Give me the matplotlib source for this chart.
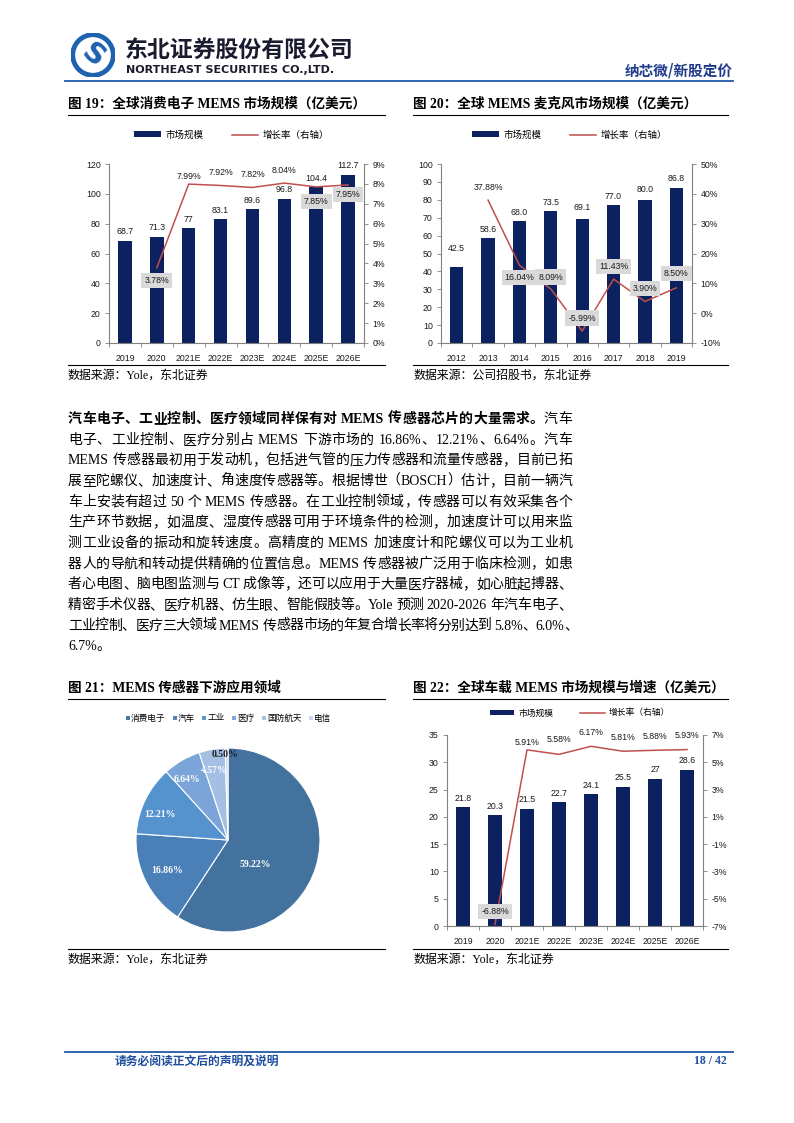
import numpy as np
import matplotlib
matplotlib.use('Agg')
import matplotlib.pyplot as plt
from matplotlib.patches import Circle
from matplotlib.lines import Line2D
from matplotlib.font_manager import FontProperties

# ---------------- data ----------------
c19_years = ['2019', '2020', '2021E', '2022E', '2023E', '2024E', '2025E', '2026E']
c19_size = [68.7, 71.3, 77, 83.1, 89.6, 96.8, 104.4, 112.7]
c19_growth = [np.nan, 3.78, 7.99, 7.92, 7.82, 8.04, 7.85, 7.95]

c20_years = ['2012', '2013', '2014', '2015', '2016', '2017', '2018', '2019']
c20_size = [42.5, 58.6, 68.0, 73.5, 69.1, 77.0, 80.0, 86.8]
c20_growth = [np.nan, 37.88, 16.04, 8.09, -5.99, 11.43, 3.90, 8.50]

c21_labels = ['消费电子', '汽车', '工业', '医疗', '国防航天', '电信']
c21_share = [59.22, 16.86, 12.21, 6.64, 4.57, 0.50]

c22_years = ['2019', '2020', '2021E', '2022E', '2023E', '2024E', '2025E', '2026E']
c22_size = [21.8, 20.3, 21.5, 22.7, 24.1, 25.5, 27, 28.6]
c22_growth = [np.nan, -6.88, 5.91, 5.58, 6.17, 5.81, 5.88, 5.93]

# ---------------- style ----------------
W, H = 794, 1123
NAVY = '#0C215F'
RED = '#C0504D'
AXC = '#808080'
BOXC = '#D9D9D9'
BLUE = '#2157A8'
DARKBLUE = '#1F3A8A'
FOOTBLUE = '#1F4E9E'
SANS = ['Liberation Sans', 'Noto Sans CJK SC']
SERIF = ['Liberation Serif', 'Noto Sans CJK SC']
CJK = ['Noto Sans CJK SC', 'Liberation Serif']
PIE_COLORS = ['#43729E', '#4A7FB8', '#5593CF', '#7BA5D8', '#A5BFE4', '#C9D7EE']
TICK_FS = 6.3
LAB_FS = 6.3
TITLE_FS = 9.8
SRC_FS = 8.6

fig = plt.figure(figsize=(W / 100, H / 100), dpi=100)


def add_ax(x0, y0, x1, y1):
    return fig.add_axes([x0 / W, 1 - y1 / H, (x1 - x0) / W, (y1 - y0) / H])


def ftext(x, y, s, **kw):
    return fig.text(x / W, 1 - y / H, s, **kw)


def hline(x0, x1, y, color, lw):
    fig.add_artist(Line2D([x0 / W, x1 / W], [1 - y / H, 1 - y / H], color=color, lw=lw))


# ---------------- header ----------------
lax = add_ax(71, 33, 115, 77)
lax.set_xlim(-1, 1); lax.set_ylim(-1, 1); lax.set_aspect('equal'); lax.axis('off')
lax.add_patch(Circle((0, 0), 1.0, color='#1E62B0'))
lax.add_patch(Circle((0, 0), 0.78, color='white'))
lax.text(0, -0.02, 'S', ha='center', va='center', fontsize=21, weight='bold',
         color='#1E62B0', rotation=-40, family='DejaVu Sans')
ftext(125, 50, '东北证券股份有限公司', fontsize=16.5, weight='bold', family=CJK,
      color='#1B1B2F', va='center', ha='left')
ftext(126, 70, 'NORTHEAST SECURITIES CO.,LTD.', fontsize=8, weight='bold',
      family='DejaVu Sans', color='#1B1B2F', va='center', ha='left')
ftext(733, 70, '纳芯微/新股定价', fontsize=10.5, weight='bold', family=CJK,
      color=DARKBLUE, va='center', ha='right')
hline(65, 733, 80.5, BLUE, 1.3)

# ---------------- combo chart helper ----------------
def combo(box, cats, sizes, growth, size_fmt, ylim, yticks, y2lim, y2ticks,
          rate_dy, rate_boxed, leg_xy, leg_fs, bar_dy):
    ax = add_ax(*box)
    x = np.arange(len(cats))
    bars = ax.bar(x, sizes, width=0.42, color=NAVY, zorder=2)
    ax.set_xlim(-0.5, len(cats) - 0.5)
    ax.set_ylim(*ylim)
    ax.set_yticks(yticks)
    ax.set_xticks(x)
    ax.set_xticklabels(cats)
    ax.set_xticks(np.arange(len(cats) + 1) - 0.5, minor=True)
    ax.tick_params(axis='x', which='major', length=0, pad=8, labelsize=TICK_FS)
    ax.tick_params(axis='x', which='minor', length=3, width=0.6, color=AXC, direction='out')
    ax.tick_params(axis='y', length=3, width=0.6, color=AXC, pad=3, labelsize=TICK_FS)
    for lab in ax.get_xticklabels() + ax.get_yticklabels():
        lab.set_family(SANS)
        lab.set_color('#1A1A1A')
    for s in ['top', 'right']:
        ax.spines[s].set_visible(False)
    for s in ['left', 'bottom']:
        ax.spines[s].set_color(AXC)
        ax.spines[s].set_linewidth(0.8)
    for xi, v, d in zip(x, sizes, bar_dy):
        ax.annotate(size_fmt.format(v), (xi, v), xytext=(0, d), textcoords='offset points',
                    ha='center', va='bottom', fontsize=LAB_FS, family=SANS, color='#1A1A1A')

    ax2 = ax.twinx()
    ln, = ax2.plot(x, growth, color=RED, lw=1.1, zorder=3)
    ax2.set_ylim(*y2lim)
    ax2.set_yticks(y2ticks)
    ax2.set_yticklabels([f'{v:g}%' for v in y2ticks])
    ax2.tick_params(axis='y', length=3, width=0.6, color=AXC, pad=3, labelsize=TICK_FS)
    for lab in ax2.get_yticklabels():
        lab.set_family(SANS)
        lab.set_color('#1A1A1A')
    for s in ['top', 'left', 'bottom']:
        ax2.spines[s].set_visible(False)
    ax2.spines['right'].set_color(AXC)
    ax2.spines['right'].set_linewidth(0.8)
    for xi, g, dy, bx in zip(x, growth, rate_dy, rate_boxed):
        if np.isnan(g):
            continue
        kw = {}
        if bx:
            kw['bbox'] = dict(boxstyle='square,pad=0.35', fc=BOXC, ec='none')
        ax2.annotate(f'{g:.2f}%', (xi, g), xytext=(0, dy * 0.72), textcoords='offset points',
                     ha='center', va='center', fontsize=LAB_FS, family=SANS, color='#1A1A1A',
                     zorder=5, **kw)

    ax.legend(handles=[bars, ln], labels=['市场规模', '增长率（右轴）'], loc='center',
              bbox_to_anchor=(leg_xy[0] / W, 1 - leg_xy[1] / H), bbox_transform=fig.transFigure,
              ncol=2, frameon=False, prop=FontProperties(family=CJK, size=leg_fs),
              handlelength=2.8, handleheight=0.6, columnspacing=3.0, handletextpad=0.5)
    return ax, ax2


# ---------------- figure 19 ----------------
ftext(68, 104, '图 19：全球消费电子 MEMS 市场规模（亿美元）', fontsize=TITLE_FS, weight='bold',
      family=SERIF, va='center', ha='left')
hline(68, 385, 114.5, 'black', 0.8)
combo((109, 164, 364, 343), c19_years, c19_size, c19_growth, '{:g}',
      (0, 120), np.arange(0, 121, 20), (0, 9), list(range(0, 10)),
      [0, -13, 8, 13, 13, 13, -15, -10],
      [False, True, False, False, False, False, True, True],
      (232, 135), 6.8, [3.2] * 8)
hline(68, 385, 365, 'black', 0.8)
ftext(68, 376, '数据来源：Yole，东北证券', fontsize=SRC_FS, family=SERIF, va='center', ha='left')

# ---------------- figure 20 ----------------
ftext(413, 104, '图 20：全球 MEMS 麦克风市场规模（亿美元）', fontsize=TITLE_FS, weight='bold',
      family=SERIF, va='center', ha='left')
hline(413, 728, 114.5, 'black', 0.8)
combo((441, 164, 692, 343), c20_years, c20_size, c20_growth, '{:.1f}',
      (0, 100), np.arange(0, 101, 10), (-10, 50), list(range(-10, 51, 10)),
      [0, 13, -12, 12, 13, 13, 13, 14],
      [False, False, True, True, True, True, True, True],
      (570, 135), 6.8, [10, 3.2, 3.2, 3.2, 5, 3.2, 4, 3.2])
hline(413, 728, 365, 'black', 0.8)
ftext(413, 376, '数据来源：公司招股书，东北证券', fontsize=SRC_FS, family=SERIF, va='center', ha='left')

# ---------------- body text (justified) ----------------
body_lines = [
    [('汽车电子、工业控制、医疗领域同样保有对 MEMS 传感器芯片的大量需求。', True), ('汽车', False)],
    [('电子、工业控制、医疗分别占 MEMS 下游市场的 16.86%、12.21%、6.64%。汽车', False)],
    [('MEMS 传感器最初用于发动机，包括进气管的压力传感器和流量传感器，目前已拓', False)],
    [('展至陀螺仪、加速度计、角速度传感器等。根据博世（BOSCH）估计，目前一辆汽', False)],
    [('车上安装有超过 50 个 MEMS 传感器。在工业控制领域，传感器可以有效采集各个', False)],
    [('生产环节数据，如温度、湿度传感器可用于环境条件的检测，加速度计可以用来监', False)],
    [('测工业设备的振动和旋转速度。高精度的 MEMS 加速度计和陀螺仪可以为工业机', False)],
    [('器人的导航和转动提供精确的位置信息。MEMS 传感器被广泛用于临床检测，如患', False)],
    [('者心电图、脑电图监测与 CT 成像等，还可以应用于大量医疗器械，如心脏起搏器、', False)],
    [('精密手术仪器、医疗机器、仿生眼、智能假肢等。Yole 预测 2020-2026 年汽车电子、', False)],
    [('工业控制、医疗三大领域 MEMS 传感器市场的年复合增长率将分别达到 5.8%、6.0%、', False)],
    [('6.7%。', False)],
]
line_right = [572, 572, 572, 572, 572, 572, 572, 572, 572, 572, 578, None]

renderer = fig.canvas.get_renderer()


def tok_width(s, fp):
    w, h, d = renderer.get_text_width_height_descent(s, fp, ismath=False)
    return w


def tokenize(line):
    toks = []
    for s, bold in line:
        i = 0
        while i < len(s):
            ch = s[i]
            if ord(ch) < 128 and ch != ' ':
                j = i
                while j < len(s) and ord(s[j]) < 128 and s[j] != ' ':
                    j += 1
                toks.append((s[i:j], bold))
                i = j
            else:
                toks.append((ch, bold))
                i += 1
    return toks


x_left = 68
for li, (line, xr) in enumerate(zip(body_lines, line_right)):
    yb = 418 + li * 20.65 + 5
    toks = tokenize(line)
    fps = [FontProperties(family=SERIF, size=10, weight='bold' if b else 'normal') for _, b in toks]
    widths = [tok_width(t, fp) for (t, _), fp in zip(toks, fps)]
    gap = 0.0
    if xr is not None and len(toks) > 1:
        gap = (xr - x_left - sum(widths)) / (len(toks) - 1)
    xc = x_left
    for (t, b), fp, w in zip(toks, fps, widths):
        if t != ' ':
            ftext(xc, yb, t, fontproperties=fp, va='baseline', ha='left', color='black')
        xc += w + gap

# ---------------- figure 21 (pie) ----------------
ftext(68, 688, '图 21：MEMS 传感器下游应用领域', fontsize=TITLE_FS, weight='bold',
      family=SERIF, va='center', ha='left')
hline(68, 385, 698.5, 'black', 0.8)
R = 92
cx, cy = 228, 840
pax = add_ax(cx - 100, cy - 100, cx + 100, cy + 100)
wedges, _, autotexts = pax.pie(c21_share, colors=PIE_COLORS, startangle=90, counterclock=False,
                               radius=1.0, autopct='%.2f%%', pctdistance=0.75,
                               wedgeprops=dict(edgecolor='white', linewidth=0.8))
pax.set_xlim(-100 / R, 100 / R); pax.set_ylim(-100 / R, 100 / R)
pax.set_aspect('equal'); pax.axis('off')
lab_r = [0.40, 0.74, 0.79, 0.80, 0.77, 0.93]
lab_shift = [-26, 0, 5, 4, 1, 1]
for w_, t, r_, sh in zip(wedges, autotexts, lab_r, lab_shift):
    ang = np.deg2rad((w_.theta1 + w_.theta2) / 2 + sh)
    t.set_position((r_ * np.cos(ang), r_ * np.sin(ang)))
    t.set_fontsize(7)
    t.set_fontweight('bold')
    t.set_family(SERIF)
    t.set_color('white')
autotexts[-1].set_color('#1A1A1A')
pax.legend(wedges, c21_labels, loc='center', bbox_to_anchor=(228 / W, 1 - 718 / H),
           bbox_transform=fig.transFigure, ncol=6, frameon=False,
           prop=FontProperties(family=CJK, size=6.2), handlelength=0.6, handleheight=0.6,
           handletextpad=0.15, columnspacing=0.7)
hline(68, 385, 949, 'black', 0.8)
ftext(68, 960, '数据来源：Yole，东北证券', fontsize=SRC_FS, family=SERIF, va='center', ha='left')

# ---------------- figure 22 ----------------
ftext(413, 688, '图 22：全球车载 MEMS 市场规模与增速（亿美元）', fontsize=TITLE_FS, weight='bold',
      family=SERIF, va='center', ha='left')
hline(413, 728, 698.5, 'black', 0.8)
combo((447, 735, 703, 926), c22_years, c22_size, c22_growth, '{:g}',
      (0, 35), np.arange(0, 36, 5), (-7, 7), list(range(-7, 8, 2)),
      [0, 13, 7, 15, 14, 14, 14, 14],
      [False, True, False, False, False, False, False, False],
      (580, 713), 6.3, [3.2] * 8)
hline(413, 728, 949, 'black', 0.8)
ftext(413, 960, '数据来源：Yole，东北证券', fontsize=SRC_FS, family=SERIF, va='center', ha='left')

# ---------------- footer ----------------
hline(65, 733, 1052, BLUE, 1.3)
ftext(115, 1061, '请务必阅读正文后的声明及说明', fontsize=8.5, weight='bold', family=CJK,
      color=FOOTBLUE, va='center', ha='left')
ftext(727, 1061, '18 / 42', fontsize=8.5, weight='bold', family=SERIF,
      color=FOOTBLUE, va='center', ha='right')

fig.savefig('out.png', dpi=100)
